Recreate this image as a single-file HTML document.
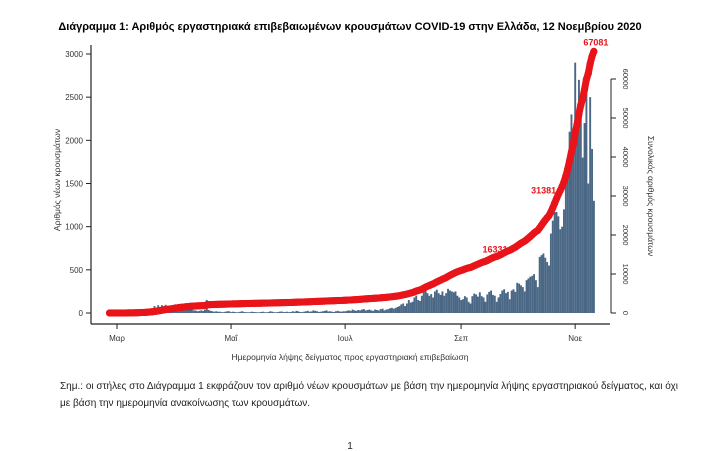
<!DOCTYPE html>
<html><head><meta charset="utf-8"><style>
body{margin:0;background:#fff;width:717px;height:451px;overflow:hidden;font-family:"Liberation Sans",sans-serif}
svg{position:absolute;left:0;top:0}
</style></head><body>
<svg id="c" width="717" height="451">
<text x="350" y="30" text-anchor="middle" font-size="11" font-weight="bold">Διάγραμμα 1: Αριθμός εργαστηριακά επιβεβαιωμένων κρουσμάτων COVID-19 στην Ελλάδα, 12 Νοεμβρίου 2020</text>
<text transform="translate(60,180) rotate(-90)" text-anchor="middle" font-size="8.5" fill="#333">Αριθμός νέων κρουσμάτων</text>
<text transform="translate(648,196) rotate(90)" text-anchor="middle" font-size="8.5" fill="#333">Συνολικός αριθμός κρουσμάτων</text>
<text x="350" y="360" text-anchor="middle" font-size="8.5" fill="#333">Ημερομηνία λήψης δείγματος προς εργαστηριακή επιβεβαίωση</text>
<text x="60" y="389" font-size="10" fill="#222">Σημ.: οι στήλες στο Διάγραμμα 1 εκφράζουν τον αριθμό νέων κρουσμάτων με βάση την ημερομηνία λήψης εργαστηριακού δείγματος, και όχι</text>
<text x="60" y="406" font-size="10" fill="#222">με βάση την ημερομηνία ανακοίνωσης των κρουσμάτων.</text>
<text x="350" y="449" text-anchor="middle" font-size="10" fill="#222">1</text>
<g id="bars"></g><g id="axes"></g><g id="line"></g>
</svg>
<script>
const dailyCases=[1,1,0,0,
0,2,0,0,2,1,20,14,7,0,7,11,26,30,20,18,40,30,50,35,80,60,90,70,90,80,95,60,70,45,80,
100,60,90,60,50,60,50,40,55,40,30,30,20,25,30,25,40,150,35,25,20,15,20,15,15,10,10,15,20,20,
10,15,12,8,10,15,20,12,10,8,10,15,12,10,9,8,12,15,10,8,12,20,15,10,8,12,15,18,10,12,15,
10,12,20,15,25,18,12,10,15,20,25,15,18,30,25,20,12,15,20,25,30,18,20,15,12,20,25,18,15,20,
20,25,30,25,40,30,25,35,30,40,45,30,35,40,30,25,40,35,30,45,50,30,40,45,55,60,50,60,70,80,100,
110,80,110,150,120,130,180,200,150,140,200,250,260,230,200,220,180,250,270,230,210,250,200,230,280,260,250,240,250,200,180,
150,160,195,180,130,110,195,225,215,190,240,195,180,130,215,245,260,210,200,130,180,220,260,275,230,245,160,260,275,245,
350,340,320,300,250,380,400,420,430,450,380,300,650,670,690,640,590,550,920,1070,1170,1170,1120,970,1000,1200,1500,1800,2100,2300,2000,
2900,2100,2700,2300,1800,2200,2600,1500,2500,1900,1300];
const leftTicks=[0,500,1000,1500,2000,2500,3000];
const rightTicks=[0,10000,20000,30000,40000,50000,60000];
const monthLabels=["Μαρ","Μαΐ","Ιουλ","Σεπ","Νοε"];
const monthDayIdx=[4,65,126,188,249];
const labelledDays=[215,241];
const NS="http://www.w3.org/2000/svg";
const X=i=>117+(i-4)*1.87;
const YL=v=>313-v*259/3000;
const YR=v=>313-v*3.9/1000;
function mk(t,a,p){const e=document.createElementNS(NS,t);for(const k in a)e.setAttribute(k,a[k]);p.appendChild(e);return e;}
const bars=document.getElementById('bars'),axes=document.getElementById('axes'),line=document.getElementById('line');
dailyCases.forEach((v,i)=>{const r=mk('rect',{x:X(i)-0.9,y:YL(v),width:1.9,height:313-YL(v),fill:'#4a6785'},bars);

});
mk('line',{x1:91,y1:45,x2:91,y2:324,stroke:'#222','stroke-width':1.2},axes);
mk('line',{x1:91,y1:324,x2:610,y2:324,stroke:'#222','stroke-width':1.2},axes);
mk('line',{x1:611,y1:YR(60000),x2:611,y2:313,stroke:'#222','stroke-width':1},axes);
leftTicks.forEach(v=>{mk('line',{x1:86,y1:YL(v),x2:91,y2:YL(v),stroke:'#222'},axes);
const t=mk('text',{x:83,y:YL(v)+3,'text-anchor':'end','font-size':8,fill:'#333'},axes);t.textContent=v;

});
rightTicks.forEach(v=>{mk('line',{x1:611,y1:YR(v),x2:616,y2:YR(v),stroke:'#222'},axes);
const t=mk('text',{transform:`translate(623,${YR(v)}) rotate(90)`,'text-anchor':'middle','font-size':7.5,fill:'#333'},axes);t.textContent=v;

});
monthLabels.forEach((m,k)=>{const x=X(monthDayIdx[k]);mk('line',{x1:x,y1:324,x2:x,y2:329,stroke:'#222'},axes);
const t=mk('text',{x:x,y:341,'text-anchor':'middle','font-size':8,fill:'#333'},axes);t.textContent=m;

});
let s=0;const cum=dailyCases.map(v=>s+=v);
const pl=mk('polyline',{points:cum.map((c,i)=>X(i)+','+YR(c)).join(' '),fill:'none',stroke:'#e8141a','stroke-width':7,'stroke-linejoin':'round','stroke-linecap':'round'},line);


cum.forEach((c,i)=>{const d=mk('circle',{cx:X(i),cy:YR(c),r:3.6,fill:'#e8141a'},line);

});
labelledDays.concat([cum.length-1]).forEach(i=>{const last=i===cum.length-1;
const t=mk('text',{x:last?X(i)+2:X(i)-4,y:YR(cum[i])+(last?-6:3),'text-anchor':last?'middle':'end','font-size':9,'font-weight':'bold',fill:'#e8141a'},line);t.textContent=cum[i];

});
</script>
</body></html>
